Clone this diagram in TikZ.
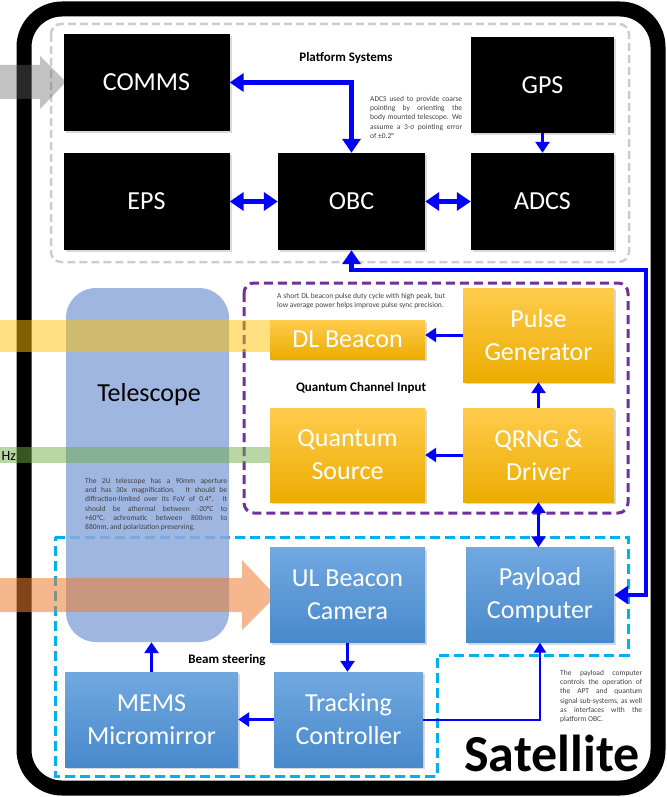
\documentclass[tikz,border=0pt]{standalone}
\usepackage{fontspec}
\setmainfont{Carlito}
\usepackage{xcolor}
\usepackage{tikz}
\usetikzlibrary{positioning,arrows.meta,shadows,calc}
\definecolor{goldtop}{RGB}{255,204,77}
\definecolor{goldbot}{RGB}{236,172,0}
\definecolor{apttop}{RGB}{113,168,224}
\definecolor{aptbot}{RGB}{72,137,204}
\definecolor{linkblue}{RGB}{0,0,255}
\definecolor{scopeblue}{RGB}{142,169,219}
\definecolor{dlbeam}{RGB}{255,192,0}
\definecolor{qbeam}{RGB}{112,173,71}
\definecolor{ulbeam}{RGB}{237,125,49}
\definecolor{platgray}{RGB}{205,205,205}
\definecolor{qpurple}{RGB}{112,48,160}
\definecolor{aptcyan}{RGB}{0,176,240}
\tikzset{
  sys box/.style={
    rectangle,
    inner sep=0pt,
    align=center,
    text=white,
    font=\fontsize{26}{33}\selectfont,
    drop shadow={shadow xshift=2pt,shadow yshift=-2pt,opacity=0.3}
  },
  plat box/.style={
    sys box,
    fill=black
  },
  q box/.style={
    sys box,
    top color=goldtop,
    bottom color=goldbot
  },
  apt box/.style={
    sys box,
    top color=apttop,
    bottom color=aptbot
  },
  scope box/.style={
    rectangle,
    rounded corners=30pt,
    fill=scopeblue,
    fill opacity=0.85,
    inner sep=0pt
  },
  link/.style={
    draw=linkblue,
    line width=4.5pt,
    >={Triangle[length=14pt,width=18pt]}
  },
  small link/.style={
    draw=linkblue,
    line width=3pt,
    >={Triangle[length=11pt,width=14pt]}
  },
  thin link/.style={
    draw=linkblue,
    line width=2pt,
    >={Triangle[length=10pt,width=12pt]}
  },
  group title/.style={
    font=\bfseries\fontsize{13}{15}\selectfont
  },
  note/.style={
    font=\fontsize{7.5}{9.2}\selectfont,
    align=justify,
    text=black!75,
    inner sep=0pt,
    anchor=north west
  }
}

\begin{document}
\begin{tikzpicture}[x=1pt, y=-1pt]
  \useasboundingbox (0,0) rectangle (666,797);

  % Satellite frame
  \draw[line width=15pt, rounded corners=38pt] (24,9) rectangle (658,788);

  % Groups
  \draw[platgray, line width=2.5pt, dash pattern=on 8pt off 4pt, rounded corners=10pt] (51,24) rectangle (629,262);
  \draw[qpurple, line width=3pt, dash pattern=on 9pt off 5pt, rounded corners=10pt] (244,283) rectangle (628,513);
  \draw[aptcyan, line width=3pt, dash pattern=on 10pt off 5pt] (55,537) -- (628,537) -- (628,655) -- (437,655) -- (437,776) -- (55,776) -- cycle;

  % Telescope
  \node[scope box, minimum width=163pt, minimum height=354pt] (telescope) at (147.5,465) {};

  % Beams
  \fill[black!60, opacity=0.4] (0,65) -- (40,65) -- (40,56) -- (66,82) -- (40,109) -- (40,99) -- (0,99) -- cycle;
  \fill[dlbeam, opacity=0.5] (0,320) rectangle (278,352);
  \fill[qbeam, opacity=0.5] (0,447) rectangle (278,463);
  \fill[ulbeam, opacity=0.55] (0,578) -- (242,578) -- (242,560) -- (276,596) -- (242,630) -- (242,612) -- (0,612) -- cycle;

  % Platform systems
  \node[plat box, minimum width=166pt, minimum height=97pt] (comms) at (146.5,82.5) {COMMS};
  \node[plat box, minimum width=143pt, minimum height=96pt] (gps) at (542.5,85) {GPS};
  \node[plat box, minimum width=166pt, minimum height=97pt] (eps) at (146.5,201.5) {EPS};
  \node[plat box, minimum width=147pt, minimum height=97pt] (obc) at (351.5,201.5) {OBC};
  \node[plat box, minimum width=143pt, minimum height=97pt] (adcs) at (542.5,201.5) {ADCS};

  % Quantum channel input
  \node[q box, minimum width=155pt, minimum height=39pt] (dlb) at (347.5,339.5) {DL Beacon};
  \node[q box, minimum width=151pt, minimum height=94pt] (pulse) at (538.5,335) {Pulse\\Generator};
  \node[q box, minimum width=155pt, minimum height=94pt] (qsrc) at (347.5,455) {Quantum\\Source};
  \node[q box, minimum width=151pt, minimum height=94pt] (qrng) at (538.5,455) {QRNG \&\\Driver};

  % Beam steering
  \node[apt box, minimum width=155pt, minimum height=95pt] (ulcam) at (347.5,595) {UL Beacon\\Camera};
  \node[apt box, minimum width=148pt, minimum height=95pt] (payload) at (540,595) {Payload\\Computer};
  \node[apt box, minimum width=173pt, minimum height=95pt] (mems) at (151.5,719.5) {MEMS\\Micromirror};
  \node[apt box, minimum width=149pt, minimum height=95pt] (track) at (348.5,719.5) {Tracking\\Controller};

  % Platform links
  \draw[link, <->] (comms.east) -| (obc.north);
  \draw[small link, ->] (gps) -- (adcs);
  \draw[link, <->] (eps) -- (obc);
  \draw[link, <->] (obc) -- (adcs);
  \coordinate (bus left) at (351.5,270);
  \coordinate (bus right) at (646,270);
  \draw[link, <->] (obc.south) -- (bus left) -- (bus right) |- (payload.east);

  % Payload links
  \draw[small link, ->] (pulse.west) -- (pulse.west -| dlb.east);
  \draw[small link, ->] (qrng) -- (qsrc);
  \draw[small link, ->] (qrng) -- (pulse);
  \draw[small link, <->] (qrng.south) -- (qrng.south |- payload.north);
  \draw[small link, ->] (ulcam.south) -- (ulcam.south |- track.north);
  \draw[small link, ->] (track) -- (mems);
  \draw[small link, ->] (mems.north) -- (mems.north |- telescope.south);
  \draw[thin link, ->] (track.east) -| (payload.south);

  % Titles
  \node[group title] (plat title) at (346,58) {Platform Systems};
  \node[group title] (qci title) at (361,388) {Quantum Channel Input};
  \node[group title] (beam title) at (227,660) {Beam steering};
  \node[font=\fontsize{26}{30}\selectfont] (scope title) at (149,395) {Telescope};
  \node[font=\bfseries\fontsize{52}{56}\selectfont] (sat title) at (552,753) {Satellite};
  \node[font=\fontsize{14}{16}\selectfont, anchor=east, inner sep=0pt] (hz) at (16,456) {Hz};

  % Notes
  \node[note, text width=92pt] (adcs note) at (370,96) {ADCS used to provide coarse\linebreak pointing by orienting the\linebreak body mounted telescope. We\linebreak assume a 3-σ pointing error\linebreak of ±0.2°};
  \node[note, text width=168pt] (dl note) at (277,293) {A short DL beacon pulse duty cycle with high peak, but\linebreak low average power helps improve pulse sync precision.};
  \node[note, text width=142pt] (scope note) at (85,478) {The 2U telescope has a 90mm aperture\linebreak and has 30x magnification. It should be\linebreak diffraction-limited over its FoV of 0.4°. It\linebreak should be athermal between -20°C to\linebreak +60°C, achromatic between 800nm to\linebreak 880nm, and polarization preserving.};
  \node[note, text width=82pt] (pc note) at (560,670) {The payload computer\linebreak controls the operation of\linebreak the APT and quantum\linebreak signal sub-systems, as well\linebreak as interfaces with the\linebreak platform OBC.};

\end{tikzpicture}
\end{document}
